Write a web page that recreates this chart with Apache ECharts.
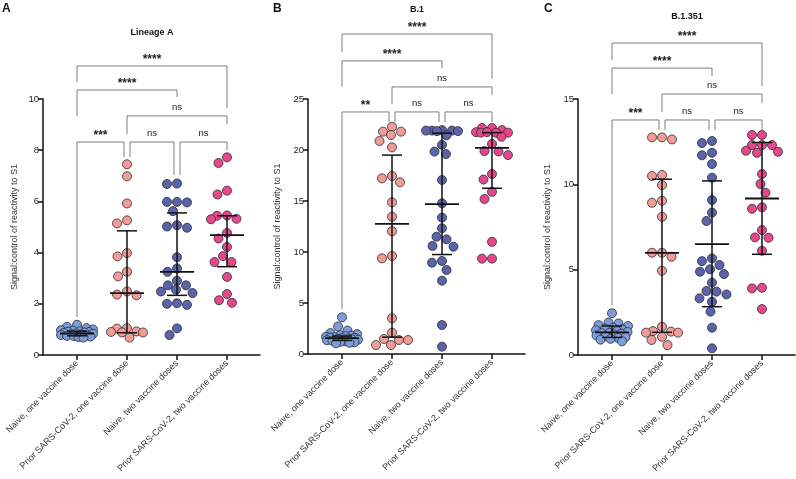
<!DOCTYPE html>
<html><head><meta charset="utf-8">
<script src="https://cdn.jsdelivr.net/npm/echarts@6/dist/echarts.min.js"></script>
<style>html,body{margin:0;padding:0;background:#fff}#c{width:796px;height:479px}</style>
</head><body><div id="c"></div>
<script>
// ---------- data ----------
const categories = ['Naive, one vaccine dose', 'Prior SARS-CoV-2, one vaccine dose', 'Naive, two vaccine doses', 'Prior SARS-CoV-2, two vaccine doses'];
const panelTitles = ['Lineage A', 'B.1', 'B.1.351'];
const panelLetters = ['A', 'B', 'C'];
const yMaxes = [10, 25, 15];
const yIntervals = [2, 5, 5];

const lineageA_naiveOne = [1.18,1.10,1.05,1.00,0.97,0.95,0.93,0.91,0.90,0.88,0.86,0.84,0.83,0.81,0.80,0.78,0.76,0.75,0.74,0.72,0.70,0.68];
const lineageA_priorOne = [7.45,6.98,5.92,5.26,5.14,3.98,3.85,3.25,3.07,2.48,2.36,2.33,1.05,1.03,0.92,0.90,0.88,0.88,0.68];
const lineageA_naiveTwo = [6.70,6.68,5.98,5.98,5.96,5.62,5.07,5.02,4.97,3.82,3.38,3.25,2.90,2.72,2.72,2.55,2.48,2.42,2.02,2.00,1.96,1.04,0.78];
const lineageA_priorTwo = [7.72,7.50,6.42,6.27,5.45,5.44,5.32,5.30,4.77,4.55,4.22,3.86,3.63,3.63,3.05,2.38,2.14,2.04];
const lineageA_median = [0.84, 2.42, 3.25, 4.68];
const lineageA_q1 = [0.75, 0.87, 2.33, 3.45];
const lineageA_q3 = [0.93, 4.85, 5.55, 5.44];

const b1_naiveOne = [3.6,2.7,2.3,2.05,1.95,1.85,1.8,1.75,1.7,1.65,1.6,1.58,1.55,1.5,1.48,1.45,1.4,1.35,1.3,1.25,1.2,1.15,1.1,1.05];
const b1_priorOne = [22.28,21.8,21.8,21.47,20.88,20.26,17.45,17.22,16.83,14.87,13.46,12.03,9.61,9.38,3.5,2.09,1.47,1.37,1.37,0.88,0.88];
const b1_naiveTwo = [21.95,21.9,21.9,21.85,21.9,21.85,21.45,20.5,19.84,19.6,17.06,14.77,13.37,12.32,11.5,11.24,10.59,10.52,9.12,8.95,8.24,7.19,2.84,0.72];
const b1_priorTwo = [22.15,22.15,21.95,21.75,21.7,21.7,21.7,21.75,21.3,20.6,19.9,19.85,19.5,17.65,17.1,15.9,15.2,11.0,9.35,9.35];
const b1_median = [1.55, 12.75, 14.7, 20.2];
const b1_q1 = [1.33, 1.65, 9.75, 16.25];
const b1_q3 = [1.76, 19.5, 21.65, 21.7];

const b1351_naiveOne = [2.45,1.9,1.85,1.75,1.7,1.6,1.55,1.5,1.45,1.4,1.35,1.3,1.28,1.25,1.2,1.15,1.1,1.05,1.0,0.95,0.9,0.8];
const b1351_priorOne = [12.75,12.75,12.63,10.55,10.49,9.96,9.04,8.92,8.1,5.99,5.99,5.76,4.94,1.66,1.40,1.37,1.31,1.31,1.07,0.88,0.58];
const b1351_naiveTwo = [12.54,12.42,11.85,11.7,11.19,10.39,9.08,8.34,7.85,5.66,5.5,5.27,5.02,4.88,4.74,4.24,3.75,3.71,3.55,3.32,3.12,2.54,1.6,0.39];
const b1351_priorTwo = [12.89,12.89,12.3,12.3,12.3,11.97,11.91,11.85,10.6,10.02,9.51,8.65,8.57,7.32,6.89,6.87,6.11,3.94,3.9,2.69];
const b1351_median = [1.33, 5.98, 6.5, 9.17];
const b1351_q1 = [1.03, 1.33, 2.83, 5.9];
const b1351_q3 = [1.7, 10.3, 10.2, 12.45];

// significance comparisons: [from group, to group, label]
const comparisons = [[1,4,'****'],[1,3,'****'],[2,4,'ns'],[1,2,'***'],[2,3,'ns'],[3,4,'ns']];
const comparisonsB = [[1,4,'****'],[1,3,'****'],[2,4,'ns'],[1,2,'**'],[2,3,'ns'],[3,4,'ns']];
const comparisonsC = [[1,4,'****'],[1,3,'****'],[2,4,'ns'],[1,2,'***'],[2,3,'ns'],[3,4,'ns']];

// ---------- layout (annotation geometry, in axis units) ----------
// [bar level, left leg end, right leg end, left x shift, right x shift]
const bracketLayout = [
  [[11.29,10.66,9.65,0,0],[10.35,9.34,10.08,0,0],[9.34,8.63,9.02,0,0],[8.32,1.48,7.73,0,-0.06],[8.32,7.73,7.03,0.06,-0.06],[8.32,7.03,8.0,0.06,0]],
  [[31.37,29.6,26.96,0,0],[28.73,26.2,28.0,0,0],[26.18,24.5,25.4,0,0],[23.73,4.4,22.75,0,-0.06],[23.73,22.75,22.75,0.06,-0.06],[23.73,22.75,22.75,0.06,0]],
  [[18.28,17.28,15.76,0,0],[16.81,15.29,16.34,0,0],[15.29,14.24,14.76,0,0],[13.77,2.93,13.18,0,-0.06],[13.77,13.18,13.18,0.06,-0.06],[13.77,13.18,13.18,0.06,0]]
];

const panels = [
  {groups:[lineageA_naiveOne,lineageA_priorOne,lineageA_naiveTwo,lineageA_priorTwo], med:lineageA_median, q1:lineageA_q1, q3:lineageA_q3, comp:comparisons},
  {groups:[b1_naiveOne,b1_priorOne,b1_naiveTwo,b1_priorTwo], med:b1_median, q1:b1_q1, q3:b1_q3, comp:comparisonsB},
  {groups:[b1351_naiveOne,b1351_priorOne,b1351_naiveTwo,b1351_priorTwo], med:b1351_median, q1:b1351_q1, q3:b1351_q3, comp:comparisonsC}
];

const groupColors = ['#7c9dd8', '#f39c95', '#5b63a9', '#e8488a'];
const grids = [
  {left:43, top:99, width:217, height:256},
  {left:308, top:99, width:217, height:255},
  {left:578, top:99, width:217, height:256}
];
const X_MIN = 0.32, X_MAX = 4.66;
const FONT = '"Liberation Sans", Arial, Helvetica, sans-serif';

// deterministic beeswarm spread (pixel based, no randomness)
function swarm(values, pxY, pxX, d, maxOff) {
  const order = values.map((v,i)=>i).sort((a,b)=>values[b]-values[a]);
  const cands = [0];
  for (let s = 0.5; s <= maxOff; s += 0.5) { cands.push(-s, s); }
  const placed = []; const offs = new Array(values.length).fill(0);
  for (const i of order) {
    const py = values[i]*pxY;
    let chosen = null, best = -1, bestX = 0;
    for (const cx of cands) {
      let md = Infinity;
      for (const p of placed) { const dd = Math.hypot(p[0]-cx, p[1]-py); if (dd < md) md = dd; }
      if (md >= d) { chosen = cx; break; }
      if (md > best + 0.01) { best = md; bestX = cx; }
    }
    if (chosen === null) chosen = bestX;
    placed.push([chosen, py]);
    offs[i] = chosen / pxX;
  }
  return offs;
}

const series = [];
panels.forEach((p, pi) => {
  const pxX = grids[pi].width / (X_MAX - X_MIN);
  const pxY = grids[pi].height / yMaxes[pi];
  p.groups.forEach((vals, gi) => {
    const offs = swarm(vals, pxY, pxX, 10, 16);
    series.push({
      type:'scatter', xAxisIndex:pi, yAxisIndex:pi, symbolSize:9, z:3,
      itemStyle:{color:groupColors[gi], borderColor:'#2a2a3a', borderWidth:0.8, opacity:1},
      data: vals.map((v,k)=>[gi+1+offs[k], v]),
      silent:true
    });
  });
  // median + IQR
  series.push({
    type:'custom', xAxisIndex:pi, yAxisIndex:pi, z:5, silent:true,
    data: p.med.map((m,gi)=>[gi+1, m, p.q1[gi], p.q3[gi]]),
    encode:{x:0, y:[1,2,3]},
    renderItem:(params, api)=>{
      const x = api.value(0);
      const m = api.coord([x, api.value(1)]);
      const lo = api.coord([x, api.value(2)]);
      const hi = api.coord([x, api.value(3)]);
      const st = {stroke:'#111', lineWidth:1.5};
      return {type:'group', children:[
        {type:'line', shape:{x1:lo[0],y1:lo[1],x2:hi[0],y2:hi[1]}, style:st},
        {type:'line', shape:{x1:lo[0]-10,y1:lo[1],x2:lo[0]+10,y2:lo[1]}, style:st},
        {type:'line', shape:{x1:hi[0]-10,y1:hi[1],x2:hi[0]+10,y2:hi[1]}, style:st},
        {type:'line', shape:{x1:m[0]-17,y1:m[1],x2:m[0]+17,y2:m[1]}, style:{stroke:'#111', lineWidth:1.8}}
      ]};
    }
  });
  // significance brackets
  const lay = bracketLayout[pi];
  series.push({
    type:'custom', xAxisIndex:pi, yAxisIndex:pi, z:2, clip:false, silent:true,
    data: p.comp.map((c,ci)=>[c[0]+lay[ci][3], c[1]+lay[ci][4], lay[ci][0], lay[ci][1], lay[ci][2]]),
    encode:{x:[0,1], y:[2]},
    renderItem:(params, api)=>{
      const x1 = api.value(0), x2 = api.value(1), y = api.value(2), yl = api.value(3), yr = api.value(4);
      const a = api.coord([x1, yl]), b = api.coord([x1, y]), c = api.coord([x2, y]), d = api.coord([x2, yr]);
      const label = p.comp[params.dataIndex][2];
      const star = label !== 'ns';
      return {type:'group', children:[
        {type:'polyline', shape:{points:[a,b,c,d]}, style:{stroke:'#7d7d7d', lineWidth:1, fill:null}},
        {type:'text', style:{text:label, x:(b[0]+c[0])/2, y: b[1] - (star ? 0 : 4), align:'center', verticalAlign:'bottom',
          font: (star ? 'bold 12px ' : '9.5px ') + FONT, fill:'#222'}}
      ]};
    }
  });
});

const chart = echarts.init(document.getElementById('c'), null, {renderer:'canvas'});
chart.setOption({
  animation:false,
  backgroundColor:'#fff',
  textStyle:{fontFamily:FONT},
  grid: grids,
  xAxis: grids.map((g,i)=>({
    type:'value', gridIndex:i, min:X_MIN, max:X_MAX,
    splitLine:{show:false},
    axisLine:{onZero:false, lineStyle:{color:'#111', width:1.5}},
    axisTick:{customValues:[1,2,3,4], length:5, lineStyle:{color:'#111', width:1.5}},
    axisLabel:{customValues:[1,2,3,4], formatter:(v)=>categories[Math.round(v)-1] || '', rotate:45, fontSize:9, color:'#333', margin:7, fontFamily:FONT}
  })),
  yAxis: grids.map((g,i)=>({
    type:'value', gridIndex:i, min:0, max:yMaxes[i], interval:yIntervals[i],
    splitLine:{show:false},
    axisLine:{show:true, onZero:false, lineStyle:{color:'#111', width:1.5}},
    axisTick:{show:true, length:5, lineStyle:{color:'#111', width:1.5}},
    axisLabel:{fontSize:9.5, color:'#222', margin:4, fontFamily:FONT},
    name:'Signal:control of reactivity to S1', nameLocation:'middle', nameGap: i===0 ? 24 : 26,
    nameTextStyle:{fontSize:9, color:'#333', fontFamily:FONT}
  })),
  graphic: [
    ...panelLetters.map((t,i)=>({type:'text', x:[2,273,544][i], y:3, style:{text:t, font:'bold 12px '+FONT, fill:'#111'}})),
    ...panelTitles.map((t,i)=>({type:'text', x:[152,417,687][i], y:[33,10,17][i], style:{text:t, align:'center', verticalAlign:'middle', font:'bold 9px '+FONT, fill:'#111'}}))
  ],
  series: series
});
</script></body></html>
